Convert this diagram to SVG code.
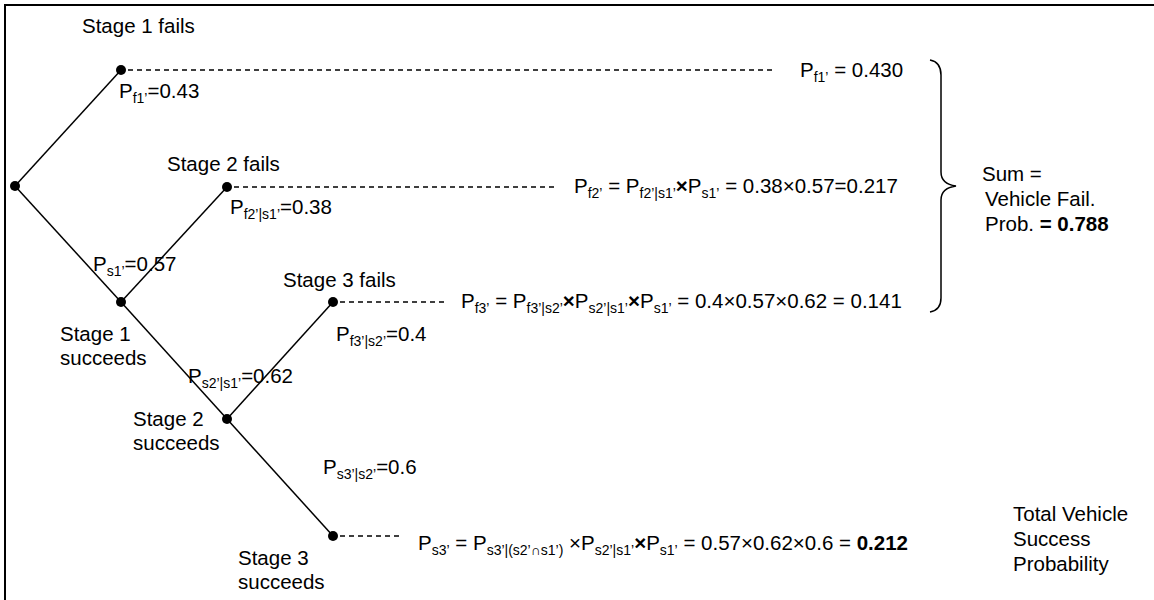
<svg xmlns="http://www.w3.org/2000/svg" width="1154" height="600" viewBox="0 0 1154 600">
  <style>
    text { font-family: "Liberation Sans", Arial, sans-serif; font-size: 20.5px; fill: #000; }
    .sub { font-size: 14px; }
    .b { font-weight: bold; }
    .branch { stroke: #000; stroke-width: 1.5; fill: none; }
    .lead { stroke: #000; stroke-width: 1.3; stroke-dasharray: 5 4; fill: none; }
    .dot { fill: #000; }
  </style>
  <rect x="5" y="5" width="1170" height="620" fill="none" stroke="#000" stroke-width="2"/>

  <!-- tree branches and dashed leaders -->
  <g id="connectors">
    <line class="branch" x1="15" y1="186" x2="121" y2="70"/>
    <line class="branch" x1="15" y1="186" x2="121" y2="302"/>
    <line class="branch" x1="121" y1="302" x2="227" y2="187"/>
    <line class="branch" x1="121" y1="302" x2="227" y2="419"/>
    <line class="branch" x1="227" y1="419" x2="333" y2="302"/>
    <line class="branch" x1="227" y1="419" x2="333" y2="536"/>
    <line class="lead" x1="128" y1="70" x2="776" y2="70"/>
    <line class="lead" x1="234" y1="187" x2="556" y2="187"/>
    <line class="lead" x1="340" y1="302" x2="444" y2="302"/>
    <line class="lead" x1="340" y1="536" x2="399" y2="536"/>
  </g>

  <g id="root">
    <circle class="dot" cx="15" cy="186" r="5"/>
  </g>

  <g id="stage1-fails">
    <circle class="dot" cx="121" cy="70" r="5"/>
    <text x="82" y="33">Stage 1 fails</text>
    <text x="119" y="98">P<tspan class="sub" dy="5">f1’</tspan><tspan dy="-5">=0.43</tspan></text>
  </g>

  <g id="stage1-succeeds">
    <circle class="dot" cx="121" cy="302" r="5"/>
    <text x="93" y="271">P<tspan class="sub" dy="5">s1’</tspan><tspan dy="-5">=0.57</tspan></text>
    <text x="60" y="341">Stage 1</text>
    <text x="60" y="365">succeeds</text>
  </g>

  <g id="stage2-fails">
    <circle class="dot" cx="227" cy="187" r="5"/>
    <text x="167" y="171">Stage 2 fails</text>
    <text x="230" y="214">P<tspan class="sub" dy="5">f2’|s1’</tspan><tspan dy="-5">=0.38</tspan></text>
  </g>

  <g id="stage2-succeeds">
    <circle class="dot" cx="227" cy="419" r="5"/>
    <text x="188" y="383">P<tspan class="sub" dy="5">s2’|s1’</tspan><tspan dy="-5">=0.62</tspan></text>
    <text x="133" y="426">Stage 2</text>
    <text x="133" y="450">succeeds</text>
  </g>

  <g id="stage3-fails">
    <circle class="dot" cx="333" cy="302" r="5"/>
    <text x="283" y="287">Stage 3 fails</text>
    <text x="336" y="341">P<tspan class="sub" dy="5">f3’|s2’</tspan><tspan dy="-5">=0.4</tspan></text>
  </g>

  <g id="stage3-succeeds">
    <circle class="dot" cx="333" cy="536" r="5"/>
    <text x="323" y="474">P<tspan class="sub" dy="5">s3’|s2’</tspan><tspan dy="-5">=0.6</tspan></text>
    <text x="238" y="565">Stage 3</text>
    <text x="238" y="589">succeeds</text>
  </g>

  <!-- outcome probabilities -->
  <g id="outcome-f1">
    <text x="800" y="77">P<tspan class="sub" dy="5">f1’</tspan><tspan dy="-5"> = 0.430</tspan></text>
  </g>
  <g id="outcome-f2">
    <text x="574" y="193">P<tspan class="sub" dy="5">f2’</tspan><tspan dy="-5"> = P</tspan><tspan class="sub" dy="5">f2’|s1’</tspan><tspan class="b" dy="-5">×</tspan>P<tspan class="sub" dy="5">s1’</tspan><tspan dy="-5"> = 0.38×0.57=0.217</tspan></text>
  </g>
  <g id="outcome-f3">
    <text x="461" y="308">P<tspan class="sub" dy="5">f3’</tspan><tspan dy="-5"> = P</tspan><tspan class="sub" dy="5">f3’|s2’</tspan><tspan class="b" dy="-5">×</tspan>P<tspan class="sub" dy="5">s2’|s1’</tspan><tspan class="b" dy="-5">×</tspan>P<tspan class="sub" dy="5">s1’</tspan><tspan dy="-5"> = 0.4×0.57×0.62 = 0.141</tspan></text>
  </g>
  <g id="outcome-s3">
    <text x="418" y="550">P<tspan class="sub" dy="5">s3’</tspan><tspan dy="-5"> = P</tspan><tspan class="sub" dy="5">s3’|(s2’∩s1’)</tspan><tspan dy="-5"> ×P</tspan><tspan class="sub" dy="5">s2’|s1’</tspan><tspan class="b" dy="-5">×</tspan>P<tspan class="sub" dy="5">s1’</tspan><tspan dy="-5"> = 0.57×0.62×0.6 = </tspan><tspan class="b">0.212</tspan></text>
  </g>

  <!-- brace grouping the failure outcomes -->
  <g id="fail-sum">
    <path class="branch" stroke-width="1.3" d="M 930 60 Q 941 62 941 75 L 941 172 Q 941 184 956 186 Q 941 188 941 200 L 941 298 Q 941 310 930 312"/>
    <text x="982" y="181">Sum =</text>
    <text x="985" y="206">Vehicle Fail.</text>
    <text x="985" y="231">Prob. <tspan class="b">= 0.788</tspan></text>
  </g>

  <g id="success-total">
    <text x="1013" y="521">Total Vehicle</text>
    <text x="1013" y="546">Success</text>
    <text x="1013" y="571">Probability</text>
  </g>
</svg>
